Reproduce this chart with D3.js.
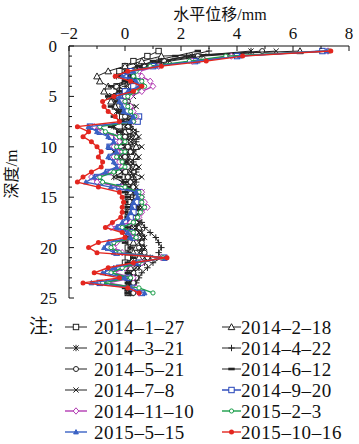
<!DOCTYPE html>
<html>
<head>
<meta charset="utf-8">
<script src="https://cdn.jsdelivr.net/npm/d3@7"></script>
<style>
  body { margin: 0; background: white; }
  text { font-family: "Liberation Serif", "Noto Sans CJK SC", serif; fill: #111; }
</style>
</head>
<body>
<div id="chart"></div>
<script>
let width = 359, height = 444;

// depth (m) of each reading
let depths = [0.5, 1, 1.5, 2, 2.5, 3, 3.5, 4, 4.5, 5, 5.5, 6, 6.5, 7, 7.5, 8, 8.5, 9, 9.5, 10,
  10.5, 11, 11.5, 12, 12.5, 13, 13.5, 14, 14.5, 15, 15.5, 16, 16.5, 17, 17.5, 18, 18.5, 19, 19.5, 20,
  20.5, 21, 21.5, 22, 22.5, 23, 23.5, 24, 24.5];

let xTicks = [-2, 0, 2, 4, 6, 8];
let yTicks = [0, 5, 10, 15, 20, 25];

let s20140127 = [1.2, 0.8, 0.3, 0.0, -0.2, 0.1, 0.0, -0.3, -0.1, -0.3, -0.1, -0.2, 0.0, -0.1, 0.1, 0.0, -0.2, 0.0, -0.1, 0.1,
  -0.1, 0.0, 0.1, -0.1, 0.0, 0.1, 0.0, 0.1, 0.2, 0.1, 0.2, 0.1, 0.2, 0.1, 0.2, 0.1, 0.2, 0.1, 0.2, 0.1,
  0.2, 0.1, 0.0, 0.1, 0.2, 0.1, 0.2, 0.1, 0.1];
let s20140218 = [6.25, 1.3, 0.6, 0.0, -0.6, -1.0, -0.9, -0.6, -0.75, -0.55, -0.5, -0.35, -0.1, 0.1, 0.0, 0.2, 0.0, 0.4, 0.1, 0.4,
  0.2, 0.4, 0.2, 0.4, 0.2, 0.3, 0.1, 0.3, 0.2, 0.4, 0.3, 0.4, 0.3, 0.4, 0.3, 0.5, 0.3, 0.4, 0.3, 0.4,
  0.3, 0.5, 0.3, 0.2, 0.3, 0.2, 0.3, 0.2, 0.2];
let s20140321 = [4.5, 2.4, 1.2, 0.4, 0.0, -0.3, 0.1, -0.2, 0.0, -0.4, -0.2, 0.0, -0.3, 0.1, -0.1, -0.4, -0.1, 0.1, -0.3, 0.0,
  -0.4, -0.1, 0.1, -0.3, -0.1, -0.4, -0.1, 0.0, 0.3, 0.4, 0.3, 0.5, 0.4, 0.3, 0.5, 0.4, 0.6, 0.7, 0.6, 0.7,
  0.6, 0.9, 0.7, 0.5, 0.3, 0.4, 0.2, 0.3, 0.2];
let s20140422 = [3.0, 2.2, 1.3, 0.6, 0.3, 0.1, 0.3, 0.0, 0.2, 0.0, 0.1, 0.2, 0.0, 0.3, 0.1, 0.2, 0.4, 0.2, 0.4, 0.2,
  0.3, 0.1, 0.3, 0.2, 0.4, 0.3, 0.4, 0.2, 0.4, 0.3, 0.5, 0.4, 0.5, 0.4, 0.6, 0.7, 0.9, 1.1, 1.2, 1.3,
  1.2, 1.3, 1.0, 0.8, 0.6, 0.5, 0.4, 0.3, 0.3];
let s20140521 = [4.9, 2.6, 1.4, 0.7, 0.2, 0.3, 0.5, 0.2, 0.3, 0.0, 0.1, -0.1, 0.1, 0.0, 0.2, 0.1, 0.3, 0.0, 0.2, 0.1,
  0.2, 0.0, 0.2, 0.1, 0.3, 0.1, 0.2, 0.3, 0.5, 0.4, 0.5, 0.3, 0.4, 0.3, 0.2, 0.3, 0.4, 0.5, 0.6, 0.5,
  0.7, 0.8, 0.6, 0.4, 0.3, 0.4, 0.3, 0.2, 0.3];
let s20140612 = [2.6, 1.8, 1.0, 0.5, 0.1, -0.2, 0.0, -0.5, -0.2, -0.6, -0.3, -0.5, -0.2, -0.4, -0.1, -0.5, -0.2, -0.4, -0.1, -0.4,
  0.0, -0.3, 0.0, -0.2, -0.4, -0.2, 0.0, 0.1, 0.0, 0.1, 0.0, 0.1, 0.0, 0.1, 0.0, 0.1, 0.0, 0.1, 0.0, 0.2,
  0.1, 0.3, 0.1, 0.0, 0.1, 0.0, 0.1, 0.0, 0.1];
let s20140708 = [5.4, 2.8, 1.6, 0.8, 0.4, 0.2, 0.6, 0.3, 0.1, 0.3, 0.0, 0.4, 0.1, 0.5, 0.2, 0.0, 0.3, 0.5, 0.2, 0.6,
  0.3, 0.5, 0.2, 0.5, 0.2, 0.6, 0.3, 0.4, 0.6, 0.5, 0.4, 0.6, 0.5, 0.4, 0.5, 0.3, 0.5, 0.6, 0.5, 0.6,
  0.5, 0.7, 0.5, 0.4, 0.2, 0.3, 0.1, 0.2, 0.1];
let s20140920 = [7.05, 4.0, 2.5, 1.0, 0.2, 0.0, 0.5, 0.3, 0.0, -0.2, -0.1, 0.0, 0.1, 0.5, 0.45, -1.25, -0.9, -0.5, -0.3, -0.55,
  -0.2, -0.5, -0.3, -0.2, -0.6, -1.0, -0.9, -0.2, 0.5, 0.5, 0.4, 0.3, 0.3, 0.2, 0.0, -0.2, 0.2, 0.3, -0.5, -0.6,
  -0.3, 1.4, 0.5, -0.2, -0.6, 0.1, -0.9, 0.3, 0.6];
let s20141110 = [7.25, 3.8, 2.4, 1.2, 0.5, 0.6, 0.9, 1.0, 0.6, 0.2, 0.0, 0.2, 0.3, 0.4, 0.3, -1.1, -0.8, -0.3, -0.2, -0.4,
  -0.1, -0.4, -0.2, -0.1, -0.5, -1.2, -1.0, -0.1, 0.6, 0.6, 0.7, 0.8, 0.6, 0.5, 0.2, -0.5, 0.1, 0.4, -0.3, -0.4,
  -0.1, 1.3, 0.6, 0.0, -0.4, 0.3, -0.6, 0.4, 0.5];
let s20150203 = [7.3, 3.6, 2.3, 0.9, 0.4, 0.3, 0.6, 0.7, 0.4, 0.1, 0.0, 0.1, 0.2, 0.35, 0.3, -0.9, -0.7, -0.2, 0.0, -0.3,
  0.0, -0.3, -0.1, 0.0, -0.4, -0.9, -0.8, 0.0, 0.5, 0.6, 0.6, 0.7, 0.55, 0.45, 0.3, -0.1, 0.3, 0.4, -0.4, -0.5,
  -0.2, 1.35, 0.5, -0.1, -0.5, 0.2, -0.8, 0.5, 1.0];
let s20150515 = [7.2, 4.1, 2.6, 1.1, 0.3, -0.1, 0.4, 0.5, 0.1, -0.2, -0.2, -0.1, -0.05, 0.3, 0.2, -1.3, -1.0, -0.6, -0.4, -0.6,
  -0.3, -0.6, -0.4, -0.3, -0.7, -1.1, -1.4, -0.5, 0.4, 0.45, 0.3, 0.25, 0.2, 0.1, -0.1, -0.3, 0.1, 0.2, -0.6, -0.75,
  -0.4, 1.45, 0.4, -0.4, -0.8, 0.0, -1.2, 0.2, 0.7];
let s20151016 = [7.35, 4.2, 2.9, 1.3, 0.1, -0.35, 0.2, 0.6, 0.3, -0.4, -0.8, -0.75, -0.6, -0.35, -0.2, -1.7, -1.3, -1.5, -1.2, -1.0,
  -0.85, -0.95, -0.8, -0.85, -1.2, -1.5, -1.7, -0.95, -0.2, -0.1, -0.05, -0.1, -0.1, -0.15, -0.45, -0.7, -0.1, 0.0, -0.95, -1.3,
  -1.0, 1.5, 0.3, -0.6, -1.1, -0.2, -1.5, 0.1, 0.5];

let seriesNames = ['2014\u20131\u201327', '2014\u20132\u201318', '2014\u20133\u201321', '2014\u20134\u201322',
  '2014\u20135\u201321', '2014\u20136\u201312', '2014\u20137\u20138', '2014\u20139\u201320',
  '2014\u201311\u201310', '2015\u20132\u20133', '2015\u20135\u201315', '2015\u201310\u201316'];
let seriesValues = [s20140127, s20140218, s20140321, s20140422, s20140521, s20140612, s20140708,
  s20140920, s20141110, s20150203, s20150515, s20151016];

// look of each series: marker type + colour
let looks = [
  { m: 'square', c: '#222' }, { m: 'triangle', c: '#222' }, { m: 'asterisk', c: '#222' }, { m: 'plus', c: '#222' },
  { m: 'circle', c: '#222' }, { m: 'dash', c: '#222' }, { m: 'cross', c: '#222' }, { m: 'square', c: '#2343b8' },
  { m: 'diamond', c: '#b33cb3' }, { m: 'smallcircle', c: '#1a9e4a' }, { m: 'filltri', c: '#3a62c4' }, { m: 'dot', c: '#e3261f' }
];

let svg = d3.select('#chart')
  .append('svg')
  .attr('width', width)
  .attr('height', height)
  .style('background', 'white');

let xscale = d3.scaleLinear().domain([-2, 8]).range([69, 349]);
let yscale = d3.scaleLinear().domain([0, 25]).range([46, 298]);

function marker(g, type, x, y, c) {
  let r = 2.7;
  if (type === 'square') {
    g.append('rect').attr('x', x - r).attr('y', y - r).attr('width', 2 * r).attr('height', 2 * r)
      .attr('fill', 'white').attr('stroke', c).attr('stroke-width', 1);
  } else if (type === 'triangle' || type === 'filltri') {
    let rr = type === 'filltri' ? 2.4 : 3.3;
    g.append('path').attr('d', `M${x},${y - rr}L${x + rr},${y + rr * 0.8}L${x - rr},${y + rr * 0.8}Z`)
      .attr('fill', type === 'filltri' ? c : 'white').attr('stroke', c).attr('stroke-width', 1);
  } else if (type === 'circle' || type === 'smallcircle') {
    g.append('circle').attr('cx', x).attr('cy', y).attr('r', type === 'circle' ? 2.5 : 2.1)
      .attr('fill', 'white').attr('stroke', c).attr('stroke-width', 1);
  } else if (type === 'dot') {
    g.append('circle').attr('cx', x).attr('cy', y).attr('r', 2.5).attr('fill', c);
  } else if (type === 'diamond') {
    g.append('path').attr('d', `M${x},${y - 3.2}L${x + 2.8},${y}L${x},${y + 3.2}L${x - 2.8},${y}Z`)
      .attr('fill', 'white').attr('stroke', c).attr('stroke-width', 1);
  } else if (type === 'plus') {
    g.append('path').attr('d', `M${x - 3.2},${y}H${x + 3.2}M${x},${y - 3.2}V${y + 3.2}`)
      .attr('stroke', c).attr('stroke-width', 1);
  } else if (type === 'cross') {
    g.append('path').attr('d', `M${x - 2.6},${y - 2.6}L${x + 2.6},${y + 2.6}M${x - 2.6},${y + 2.6}L${x + 2.6},${y - 2.6}`)
      .attr('stroke', c).attr('stroke-width', 1);
  } else if (type === 'asterisk') {
    g.append('path').attr('d', `M${x - 2.6},${y - 2.6}L${x + 2.6},${y + 2.6}M${x - 2.6},${y + 2.6}L${x + 2.6},${y - 2.6}M${x},${y - 3.2}V${y + 3.2}`)
      .attr('stroke', c).attr('stroke-width', 1);
  } else if (type === 'dash') {
    g.append('rect').attr('x', x - 3.2).attr('y', y - 1.3).attr('width', 6.4).attr('height', 2.6).attr('fill', c);
  }
}

// series
let line = d3.line().x(d => xscale(d.v)).y(d => yscale(d.d));
seriesValues.forEach((vals, i) => {
  let pts = vals.map((v, j) => ({ v: v, d: depths[j] }));
  let g = svg.append('g');
  g.append('path').datum(pts)
    .attr('d', line)
    .attr('fill', 'none')
    .attr('stroke', looks[i].c)
    .attr('stroke-width', i < 7 ? 1 : 1.4);
  pts.forEach(p => marker(g, looks[i].m, xscale(p.v), yscale(p.d), looks[i].c));
});

// top axis
let xAxis = svg.append('g').attr('transform', `translate(0, ${yscale(0)})`);
xAxis.append('line').attr('x1', xscale(-2)).attr('x2', xscale(8)).attr('stroke', '#111');
d3.range(-2, 8.01, 1).forEach(t => {
  let major = t % 2 === 0;
  xAxis.append('line').attr('x1', xscale(t)).attr('x2', xscale(t))
    .attr('y1', 0).attr('y2', major ? 5 : 3).attr('stroke', '#111');
});
xTicks.forEach(t => {
  xAxis.append('text').attr('x', xscale(t)).attr('y', -7)
    .attr('text-anchor', 'middle').style('font-size', '17px')
    .text(t < 0 ? '\u2212' + Math.abs(t) : t);
});

// left axis
let yAxis = svg.append('g').attr('transform', `translate(${xscale(-2)}, 0)`);
yAxis.append('line').attr('y1', yscale(0)).attr('y2', yscale(25)).attr('stroke', '#111');
d3.range(0, 25.01, 1).forEach(t => {
  let major = t % 5 === 0;
  yAxis.append('line').attr('y1', yscale(t)).attr('y2', yscale(t))
    .attr('x1', 0).attr('x2', major ? 5 : 3).attr('stroke', '#111');
});
yTicks.forEach(t => {
  yAxis.append('text').attr('x', -12).attr('y', yscale(t) + 6)
    .attr('text-anchor', 'end').style('font-size', '17px').text(t);
});

// axis titles
svg.append('text').text('水平位移/mm')
  .attr('x', 220).attr('y', 20)
  .attr('text-anchor', 'middle')
  .style('font-size', '16px');

svg.append('text').text('深度/m')
  .attr('transform', 'translate(17, 174) rotate(-90)')
  .attr('text-anchor', 'middle')
  .style('font-size', '16px');

// legend
svg.append('text').text('注:').attr('x', 29).attr('y', 333).style('font-size', '19px');
let rowY = [327, 348, 369, 390, 411, 432];
seriesNames.forEach((name, i) => {
  let col = i % 2, row = Math.floor(i / 2);
  let x0 = col === 0 ? 65 : 222, x1 = col === 0 ? 87 : 241;
  let y = rowY[row];
  svg.append('line').attr('x1', x0).attr('x2', x1).attr('y1', y).attr('y2', y)
    .attr('stroke', looks[i].c).attr('stroke-width', i < 7 ? 1 : 1.4);
  marker(svg, looks[i].m, (x0 + x1) / 2, y, looks[i].c);
  svg.append('text').text(name)
    .attr('x', col === 0 ? 94 : 241).attr('y', y + 6.5)
    .style('font-size', '19px')
    .style('letter-spacing', '0.6px');
});
</script>
</body>
</html>
